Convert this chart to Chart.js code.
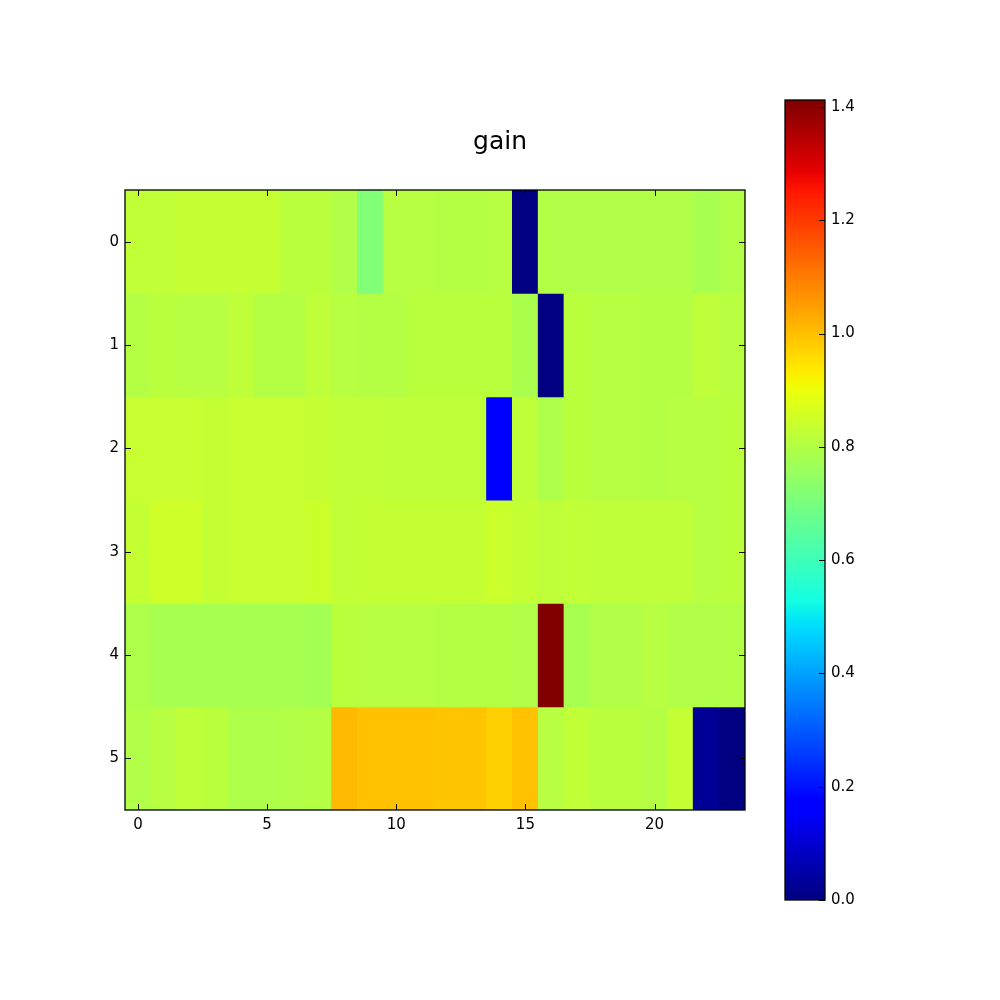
<!DOCTYPE html>
<html>
<head>
<meta charset="utf-8">
<script src="https://cdn.jsdelivr.net/npm/chart.js@4.4.1/dist/chart.umd.min.js"></script>
<style>
  html, body { margin: 0; padding: 0; background: #ffffff; }
  #wrap { position: relative; width: 1000px; height: 1000px; }
  #wrap canvas { position: absolute; left: 0; top: 0; }
</style>
</head>
<body>
<div id="wrap">
  <canvas id="heat" width="1000" height="1000"></canvas>
  <canvas id="cbar" width="1000" height="1000"></canvas>
</div>
<script>
// ---- data ----
const title = 'gain';
const cols = [0,1,2,3,4,5,6,7,8,9,10,11,12,13,14,15,16,17,18,19,20,21,22,23];
const rows = [0,1,2,3,4,5];
const xTickValues = [0,5,10,15,20];
const yTickValues = [0,1,2,3,4,5];
const row0 = [0.824,0.824,0.830,0.830,0.830,0.833,0.816,0.816,0.797,0.714,0.811,0.811,0.802,0.802,0.811,0.000,0.797,0.797,0.797,0.797,0.797,0.797,0.783,0.797];
const row1 = [0.802,0.816,0.811,0.811,0.819,0.802,0.802,0.819,0.811,0.802,0.802,0.816,0.816,0.816,0.816,0.787,0.000,0.816,0.806,0.806,0.802,0.802,0.819,0.811];
const row2 = [0.838,0.838,0.838,0.830,0.838,0.838,0.838,0.833,0.824,0.824,0.819,0.819,0.819,0.819,0.165,0.819,0.792,0.816,0.811,0.811,0.802,0.811,0.806,0.816];
const row3 = [0.833,0.845,0.845,0.830,0.838,0.838,0.838,0.841,0.824,0.833,0.833,0.833,0.833,0.833,0.840,0.828,0.819,0.824,0.819,0.819,0.819,0.819,0.811,0.816];
const row4 = [0.792,0.783,0.783,0.778,0.783,0.783,0.783,0.774,0.816,0.806,0.811,0.811,0.802,0.802,0.802,0.797,1.4124,0.778,0.797,0.797,0.806,0.797,0.797,0.797];
const row5 = [0.797,0.811,0.819,0.816,0.792,0.792,0.797,0.802,1.008,0.994,0.994,0.994,0.993,0.993,0.975,0.995,0.806,0.824,0.816,0.816,0.802,0.830,0.030,0.000];
const gridValues = [row0, row1, row2, row3, row4, row5];
const vmin = 0.0;
const vmax = 1.4124;

// ---- jet colormap (matplotlib segment data) ----
const JR = [[0,0],[0.35,0],[0.66,1],[0.89,1],[1,0.5]];
const JG = [[0,0],[0.125,0],[0.375,1],[0.64,1],[0.91,0],[1,0]];
const JB = [[0,0.5],[0.11,1],[0.34,1],[0.65,0],[1,0]];
function seg(s, t) {
  for (let i = 0; i < s.length - 1; i++) {
    if (t <= s[i + 1][0]) {
      const f = (t - s[i][0]) / (s[i + 1][0] - s[i][0]);
      return s[i][1] + f * (s[i + 1][1] - s[i][1]);
    }
  }
  return s[s.length - 1][1];
}
function jetRaw(t) {
  t = Math.max(0, Math.min(1, t));
  const r = Math.round(seg(JR, t) * 255), g = Math.round(seg(JG, t) * 255), b = Math.round(seg(JB, t) * 255);
  return `rgb(${r},${g},${b})`;
}
function jet(v) {
  let t = (v - vmin) / (vmax - vmin);
  t = Math.max(0, Math.min(1, t));
  const i = Math.min(255, Math.floor(t * 256));
  return jetRaw(i / 255);
}

const FONT = "'DejaVu Sans', 'Liberation Sans', sans-serif";
Chart.defaults.font.family = FONT;
Chart.defaults.color = '#000';

// ---- heatmap datasets (one per row, floating bars) ----
const datasets = rows.map((r, ri) => ({
  label: 'row ' + r,
  data: cols.map((c) => ({ x: c, y: [r - 0.5, r + 0.5] })),
  backgroundColor: gridValues[ri].map(jet),
  borderWidth: 0,
  inflateAmount: 0.5,
  grouped: false,
  barPercentage: 1,
  categoryPercentage: 1,
  yAxisID: 'y'
}));

const frameTicks = {
  id: 'frameTicks',
  afterDatasetsDraw(chart) {
    const { ctx, chartArea: a, scales } = chart;
    const x = scales.x, y = scales.y;
    const L = 6;
    ctx.save();
    ctx.strokeStyle = '#000';
    ctx.lineWidth = 1;
    ctx.beginPath();
    x.ticks.forEach((t) => {
      const px = Math.round(x.getPixelForValue(t.value)) + 0.5;
      ctx.moveTo(px, a.bottom); ctx.lineTo(px, a.bottom - L);
      ctx.moveTo(px, a.top); ctx.lineTo(px, a.top + L);
    });
    y.ticks.forEach((t) => {
      const py = Math.round(y.getPixelForValue(t.value)) + 0.5;
      ctx.moveTo(a.left, py); ctx.lineTo(a.left + L, py);
      ctx.moveTo(a.right, py); ctx.lineTo(a.right - L, py);
    });
    ctx.stroke();
    ctx.lineWidth = 1.3;
    ctx.strokeRect(a.left, a.top, a.right - a.left, a.bottom - a.top);
    ctx.restore();
  }
};

new Chart(document.getElementById('heat'), {
  type: 'bar',
  data: { datasets },
  options: {
    responsive: false,
    animation: false,
    devicePixelRatio: 1,
    layout: { padding: { left: 0, right: 0, top: 0, bottom: 150 } },
    plugins: {
      legend: { display: false },
      tooltip: { enabled: false },
      title: {
        display: true,
        text: title,
        color: '#000',
        font: { family: FONT, size: 25, weight: 'normal', lineHeight: 1.2 },
        padding: { top: 127, bottom: 33 }
      }
    },
    scales: {
      x: {
        type: 'linear',
        min: -0.5,
        max: 23.5,
        offset: false,
        grid: { display: false, drawTicks: false },
        border: { display: false },
        afterBuildTicks: (s) => { s.ticks = xTickValues.map((v) => ({ value: v })); },
        ticks: { padding: 6, maxRotation: 0, font: { family: FONT, size: 15 }, color: '#000' },
        afterFit: (s) => { s.height = 40; }
      },
      y: {
        type: 'linear',
        position: 'left',
        reverse: true,
        min: -0.5,
        max: 5.5,
        grid: { display: false, drawTicks: false },
        border: { display: false },
        afterBuildTicks: (s) => { s.ticks = yTickValues.map((v) => ({ value: v })); },
        ticks: { padding: 6, font: { family: FONT, size: 15 }, color: '#000' },
        afterFit: (s) => { s.width = 125; }
      },
      yRight: {
        type: 'linear',
        position: 'right',
        display: true,
        grid: { display: false, drawTicks: false },
        border: { display: false },
        ticks: { display: false },
        afterFit: (s) => { s.width = 255; }
      }
    }
  },
  plugins: [frameTicks]
});

// ---- colorbar ----
const cbFrame = {
  id: 'cbFrame',
  afterDatasetsDraw(chart) {
    const { ctx, chartArea: a, scales } = chart;
    const y = scales.y;
    ctx.save();
    ctx.strokeStyle = '#000';
    ctx.lineWidth = 1;
    ctx.beginPath();
    y.ticks.forEach((t) => {
      const py = Math.round(y.getPixelForValue(t.value)) + 0.5;
      ctx.moveTo(a.right, py); ctx.lineTo(a.right - 6, py);
    });
    ctx.stroke();
    ctx.lineWidth = 1.3;
    ctx.strokeRect(a.left, a.top, a.right - a.left, a.bottom - a.top);
    ctx.restore();
  }
};

new Chart(document.getElementById('cbar'), {
  type: 'bar',
  data: {
    labels: [title],
    datasets: [{
      data: [[vmin, vmax]],
      borderWidth: 0,
      barPercentage: 1,
      categoryPercentage: 1,
      backgroundColor: (c) => {
        const ch = c.chart;
        if (!ch.chartArea) return 'rgba(0,0,0,0)';
        const y = ch.scales.y;
        const g = ch.ctx.createLinearGradient(0, y.getPixelForValue(vmin), 0, y.getPixelForValue(vmax));
        for (let i = 0; i <= 255; i++) g.addColorStop(i / 255, jetRaw(i / 255));
        return g;
      }
    }]
  },
  options: {
    responsive: false,
    animation: false,
    devicePixelRatio: 1,
    layout: { padding: { left: 785, right: 115, top: 100, bottom: 100 } },
    plugins: { legend: { display: false }, tooltip: { enabled: false }, title: { display: false } },
    scales: {
      x: { display: false, offset: true },
      y: {
        type: 'linear',
        position: 'right',
        min: vmin,
        max: vmax,
        grid: { display: false, drawTicks: false },
        border: { display: false },
        ticks: { stepSize: 0.2, includeBounds: false, padding: 6, font: { family: FONT, size: 15 }, color: '#000',
                 callback: (v) => Number(v).toFixed(1) },
        afterFit: (s) => { s.width = 60; }
      }
    }
  },
  plugins: [cbFrame]
});
</script>
</body>
</html>
